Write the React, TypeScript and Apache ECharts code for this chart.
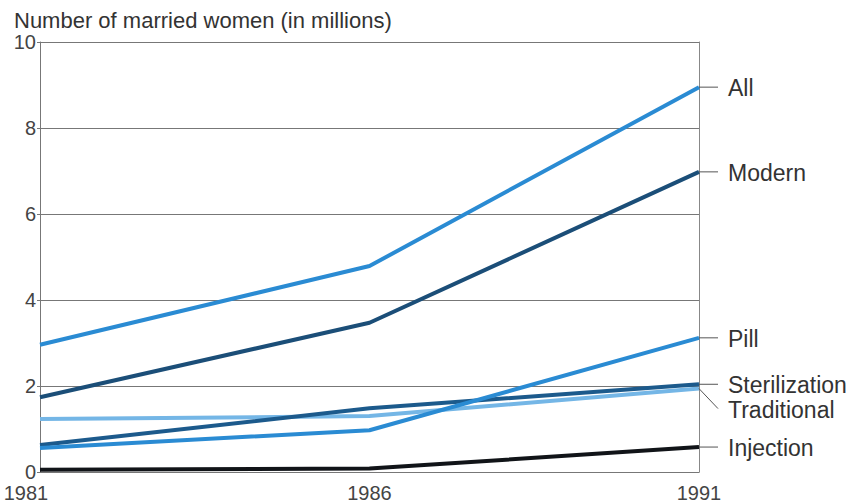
import React, { useEffect, useRef } from "react";
import * as echarts from "echarts";

const years = ["1981", "1986", "1991"];
const allValues = [2.96, 4.79, 8.95];
const modernValues = [1.74, 3.47, 6.98];
const pillValues = [0.56, 0.97, 3.12];
const sterilizationValues = [0.63, 1.48, 2.04];
const traditionalValues = [1.23, 1.3, 1.94];
const injectionValues = [0.05, 0.08, 0.58];

const seriesNames = ["All", "Modern", "Pill", "Sterilization", "Traditional", "Injection"];
const seriesData = [allValues, modernValues, pillValues, sterilizationValues, traditionalValues, injectionValues];
const seriesColors = ["#2a8bd3", "#1b4e78", "#2a8bd3", "#1c5a8c", "#74b6e6", "#111418"];
// vertical nudge (px) of each right-side label relative to its line end
const labelNudge = [0, 0, 0, 0, 20, 0];

const FONT = "Liberation Sans, Arial, sans-serif";

export default function App() {
  const ref = useRef<HTMLDivElement>(null);
  useEffect(() => {
    if (!ref.current) return;
    const chart = echarts.init(ref.current, null, { renderer: "svg" });
    chart.setOption({
      animation: false,
      backgroundColor: "#ffffff",
      title: {
        text: "Number of married women (in millions)",
        left: 9,
        top: 4,
        textStyle: { fontFamily: FONT, fontSize: 22, fontWeight: "normal", color: "#333" },
      },
      grid: { left: 40, right: 163, top: 42, bottom: 29, containLabel: false },
      xAxis: {
        type: "category",
        data: years,
        boundaryGap: false,
        axisLine: { show: true, lineStyle: { color: "#777", width: 1 } },
        axisTick: { show: false },
        axisLabel: {
          fontFamily: FONT,
          fontSize: 20,
          color: "#444",
          margin: 11,
          formatter: (v: string, idx: number) => (idx === 0 ? "{first|" + v + "}" : v),
          rich: {
            first: { fontFamily: FONT, fontSize: 20, color: "#444", padding: [0, 28, 0, 0] },
          },
        },
      },
      yAxis: [
        {
          type: "value",
          min: 0,
          max: 10,
          interval: 2,
          axisLine: { show: true, lineStyle: { color: "#777", width: 1 } },
          axisTick: { show: true, length: 3, lineStyle: { color: "#777" } },
          axisLabel: { fontFamily: FONT, fontSize: 20, color: "#444", margin: 4 },
          splitLine: { show: true, lineStyle: { color: "#777", width: 1 } },
        },
        {
          type: "value",
          position: "right",
          min: 0,
          max: 10,
          interval: 2,
          axisLine: { show: true, lineStyle: { color: "#888", width: 1 } },
          axisTick: { show: false },
          axisLabel: { show: false },
          splitLine: { show: false },
        },
      ],
      series: seriesNames.map((name, i) => ({
        name,
        type: "line",
        data: seriesData[i],
        symbol: "none",
        z: 10 - i,
        lineStyle: { color: seriesColors[i], width: 4 },
      })),
    });

    const graphics: any[] = [];
    seriesNames.forEach((name, i) => {
      const vals = seriesData[i];
      const p = chart.convertToPixel({ gridIndex: 0 }, [years.length - 1, vals[vals.length - 1]]) as number[];
      const x0 = p[0];
      const y0 = p[1];
      const y1 = y0 + labelNudge[i];
      graphics.push({
        type: "line",
        shape: { x1: x0, y1: y0, x2: x0 + 19, y2: y1 },
        style: { stroke: "#555", lineWidth: 1 },
        z: 20,
      });
      graphics.push({
        type: "text",
        x: x0 + 29,
        y: y1 + 1,
        style: {
          text: name,
          fontFamily: FONT,
          fontSize: 23,
          fill: "#333",
          verticalAlign: "middle",
        },
        z: 20,
      });
    });
    chart.setOption({ graphic: graphics });

    return () => chart.dispose();
  }, []);
  return (
    <div
      ref={ref}
      style={{ position: "absolute", left: 0, top: 0, width: 862, height: 503 }}
    />
  );
}
